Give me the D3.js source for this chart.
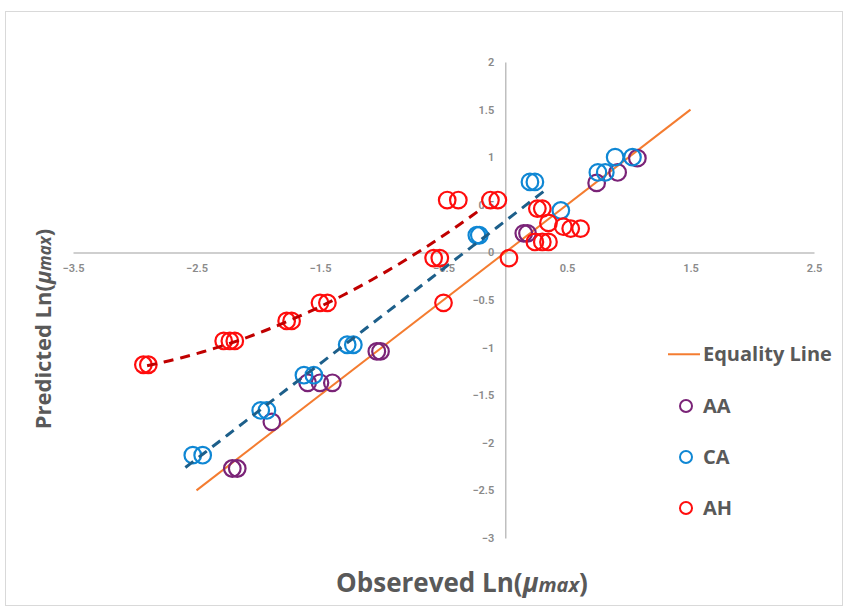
<!DOCTYPE html>
<html>
<head>
<meta charset="utf-8">
<script src="https://cdn.jsdelivr.net/npm/d3@7"></script>
<style>
  html, body { margin: 0; padding: 0; background: #fff; }
  svg { display: block; }
</style>
</head>
<body>
<svg id="chart" width="848" height="607"></svg>
<script>
// ---- data ----
const xTicks = [-3.5, -2.5, -1.5, -0.5, 0.5, 1.5, 2.5];
const yTicks = [2, 1.5, 1, 0.5, 0, -0.5, -1, -1.5, -2, -2.5, -3];

const aaX = [-2.21, -2.17, -1.89, -1.60, -1.50, -1.40, -1.04, -1.01, 0.15, 0.18, 0.74, 0.91, 1.07];
const aaY = [-2.27, -2.27, -1.78, -1.37, -1.37, -1.37, -1.04, -1.04, 0.20, 0.20, 0.73, 0.84, 0.99];

const caX = [-2.53, -2.45, -1.98, -1.93, -1.63, -1.55, -1.28, -1.23, -0.23, -0.21, 0.20, 0.24, 0.45, 0.75, 0.81, 0.89, 1.03];
const caY = [-2.13, -2.13, -1.66, -1.66, -1.29, -1.29, -0.97, -0.97, 0.18, 0.18, 0.74, 0.74, 0.44, 0.84, 0.84, 1.00, 1.00];

const ahX = [-2.93, -2.89, -2.28, -2.23, -2.19, -1.77, -1.73, -1.50, -1.44, -0.58, -0.53, -0.50, -0.47, -0.38, -0.12, -0.06, 0.03, 0.26, 0.30, 0.35, 0.24, 0.30, 0.35, 0.47, 0.53, 0.61];
const ahY = [-1.18, -1.18, -0.93, -0.93, -0.93, -0.72, -0.72, -0.53, -0.53, -0.06, -0.06, -0.53, 0.55, 0.55, 0.55, 0.55, -0.06, 0.46, 0.46, 0.31, 0.11, 0.11, 0.11, 0.27, 0.25, 0.25];

// equality line range
const eqRange = [-2.5, 1.5];
// trendlines: polynomial coefficients [c, b, a] (y = c + b x + a x^2) and x range
const ahTrendCoef = [0.646, 1.001, 0.1268];
const ahTrendRange = [-2.9, -0.18];
const caTrendCoef = [0.33, 1.0, 0];
const caTrendRange = [-2.59, 0.32];

const legendLabels = ["Equality Line", "AA", "CA", "AH"];

// ---- drawing ----
const svg = d3.select("#chart");
const colors = { AA: "#7a2377", CA: "#0f87d4", AH: "#ff0d0d", eq: "#f47c30", ahT: "#c00000", caT: "#1d5f8a" };

// frame
svg.append("rect").attr("x", 5.5).attr("y", 11.5).attr("width", 837).attr("height", 594)
  .attr("fill", "none").attr("stroke", "#d9d9d9").attr("stroke-width", 1);

const x = d3.scaleLinear().domain([-3.5, 2.5]).range([73, 814]);
const y = d3.scaleLinear().domain([-3, 2]).range([538, 62]);

// axes
const xAxis = d3.axisBottom(x).tickValues(xTicks).tickSize(0).tickSizeOuter(0).tickPadding(12)
  .tickFormat(d3.format(""));
const yAxis = d3.axisLeft(y).tickValues(yTicks).tickSize(0).tickSizeOuter(0).tickPadding(11)
  .tickFormat(d3.format(""));

const gx = svg.append("g").attr("transform", `translate(0,${y(0)})`).call(xAxis);
const gy = svg.append("g").attr("transform", `translate(${x(0)},0)`).call(yAxis);
[gx, gy].forEach(g => {
  g.select(".domain").attr("stroke", "#bfbfbf").attr("stroke-width", 1.5);
  g.selectAll("text").attr("fill", "#8a8a8a").style("font-family", "Roboto, 'Noto Sans', sans-serif")
    .style("font-size", "11px").style("font-weight", "600");
});

// equality line
const line = d3.line().x(d => x(d[0])).y(d => y(d[1]));
svg.append("path").datum(eqRange.map(v => [v, v])).attr("d", line)
  .attr("fill", "none").attr("stroke", colors.eq).attr("stroke-width", 2);

// scatter series
function drawSeries(xs, ys, color) {
  svg.append("g").selectAll("circle").data(xs.map((v, i) => [v, ys[i]])).join("circle")
    .attr("cx", d => x(d[0])).attr("cy", d => y(d[1])).attr("r", 8.3)
    .attr("fill", "none").attr("stroke", color).attr("stroke-width", 2.2);
}
drawSeries(aaX, aaY, colors.AA);
drawSeries(caX, caY, colors.CA);
drawSeries(ahX, ahY, colors.AH);

// trendlines
function trend(coef, range, color) {
  const pts = d3.range(0, 61).map(i => {
    const xv = range[0] + (range[1] - range[0]) * i / 60;
    return [xv, coef[0] + coef[1] * xv + coef[2] * xv * xv];
  });
  svg.append("path").datum(pts).attr("d", line)
    .attr("fill", "none").attr("stroke", color).attr("stroke-width", 3)
    .attr("stroke-dasharray", "10,7");
}
trend(ahTrendCoef, ahTrendRange, colors.ahT);
trend(caTrendCoef, caTrendRange, colors.caT);

// axis titles
const titleFont = "'Open Sans', 'Noto Sans', sans-serif";
const xt = svg.append("text").attr("x", 462).attr("y", 592).attr("text-anchor", "middle")
  .attr("fill", "#595959").style("font-family", titleFont).style("font-size", "26px").style("font-weight", "700");
xt.append("tspan").text("Obsereved Ln(");
xt.append("tspan").text("μ").style("font-style", "italic");
xt.append("tspan").text("max").style("font-style", "italic").style("font-size", "20px");
xt.append("tspan").text(")");

const yt = svg.append("text").attr("transform", "translate(51,329) rotate(-90)").attr("text-anchor", "middle")
  .attr("fill", "#595959").style("font-family", titleFont).style("font-size", "22px").style("font-weight", "700");
yt.append("tspan").text("Predicted Ln(");
yt.append("tspan").text("μ").style("font-style", "italic");
yt.append("tspan").text("max").style("font-style", "italic").style("font-size", "17px");
yt.append("tspan").text(")");

// legend
const lg = svg.append("g").style("font-family", titleFont).style("font-size", "20px").style("font-weight", "700");
lg.append("line").attr("x1", 668).attr("x2", 700).attr("y1", y(-1.07)).attr("y2", y(-1.07))
  .attr("stroke", colors.eq).attr("stroke-width", 2);
lg.append("text").attr("x", 703).attr("y", y(-1.07)).attr("dy", "0.36em").attr("fill", "#595959").text(legendLabels[0]);
const legSeries = [[legendLabels[1], colors.AA, 406], [legendLabels[2], colors.CA, 457], [legendLabels[3], colors.AH, 508]];
legSeries.forEach(([lab, col, yy]) => {
  lg.append("circle").attr("cx", 686).attr("cy", yy).attr("r", 6).attr("fill", "none")
    .attr("stroke", col).attr("stroke-width", 2);
  lg.append("text").attr("x", 703).attr("y", yy).attr("dy", "0.36em").attr("fill", "#595959").text(lab);
});
</script>
</body>
</html>
